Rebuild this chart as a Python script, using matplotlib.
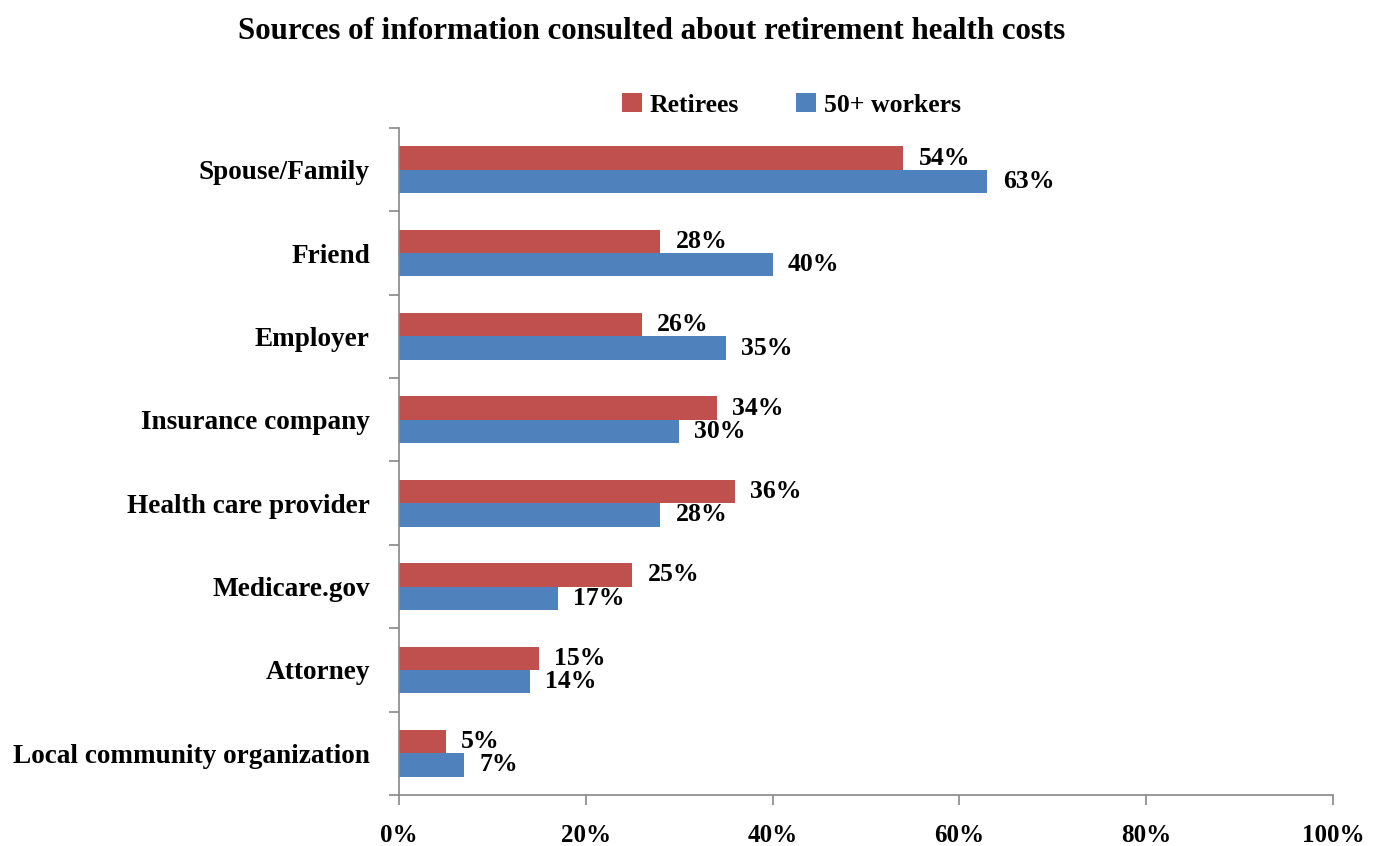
import numpy as np
import matplotlib.pyplot as plt

categories = ["Spouse/Family", "Friend", "Employer", "Insurance company",
              "Health care provider", "Medicare.gov", "Attorney",
              "Local community organization"]
retirees = [54, 28, 26, 34, 36, 25, 15, 5]
workers = [63, 40, 35, 30, 28, 17, 14, 7]
xticks = [0, 20, 40, 60, 80, 100]

plt.rcParams["font.family"] = ["Liberation Serif", "DejaVu Serif"]
plt.rcParams["font.weight"] = "bold"

fig = plt.figure(figsize=(13.81, 8.46), dpi=100)
ax = fig.add_axes([0.2889, 0.0603, 0.6763, 0.7884])

y = np.arange(len(categories))
h = 0.28
b1 = ax.barh(y - h / 2, retirees, height=h, color="#C0504D", label="Retirees")
b2 = ax.barh(y + h / 2, workers, height=h, color="#4F81BD", label="50+ workers")
ax.bar_label(b1, labels=[f"{v}%" for v in retirees], padding=11, fontsize=18.5, fontweight="bold")
ax.bar_label(b2, labels=[f"{v}%" for v in workers], padding=11, fontsize=18.5, fontweight="bold")

ax.set_ylim(len(categories) - 0.5, -0.5)
ax.set_xlim(0, 100)
ax.set_yticks(y)
ax.set_yticklabels(categories, fontsize=19.6, fontweight="bold")
ax.set_yticks(np.arange(len(categories) + 1) - 0.5, minor=True)
ax.tick_params(axis="y", which="major", length=0, pad=21)
ax.tick_params(axis="y", which="minor", length=7, color="#888888", width=1.2)
ax.set_xticks(xticks)
ax.set_xticklabels([f"{v}%" for v in xticks], fontsize=18, fontweight="bold")
ax.tick_params(axis="x", length=7, color="#888888", width=1.2, pad=14)

for s in ["top", "right"]:
    ax.spines[s].set_visible(False)
for s in ["left", "bottom"]:
    ax.spines[s].set_color("#888888")
    ax.spines[s].set_linewidth(1.2)

fig.text(0.472, 0.963, "Sources of information consulted about retirement health costs",
         ha="center", va="center", fontsize=22.2, fontweight="bold")
ax.legend(loc="center", bbox_to_anchor=(0.42, 1.035), ncol=2, frameon=False,
          fontsize=18.5, handlelength=0.8, handleheight=0.8, handletextpad=0.3,
          columnspacing=2.2)

fig.savefig("out.png", dpi=100)
